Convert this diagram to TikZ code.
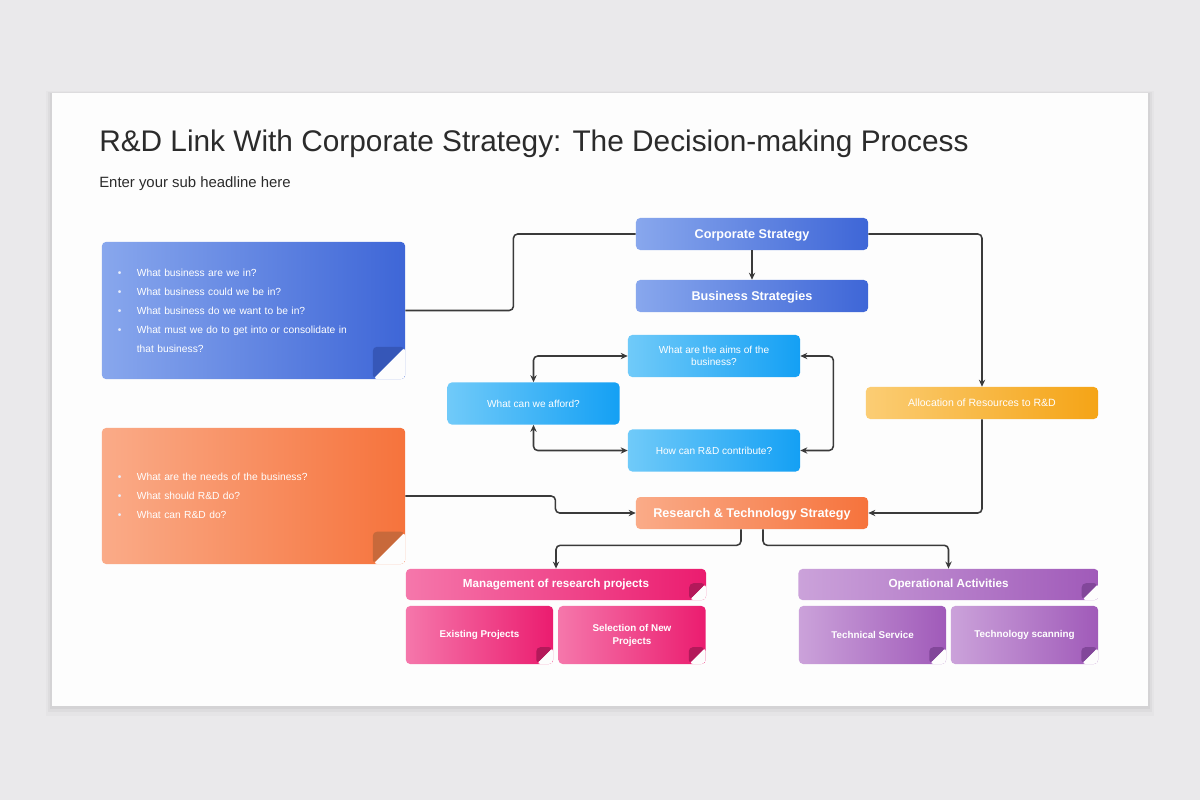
\documentclass[tikz,border=0pt]{standalone}
\usepackage{fontspec}
\setmainfont{Liberation Sans}
\usepackage{tikz}
\usetikzlibrary{calc,arrows.meta}

\definecolor{pagebg}{HTML}{EAE9EB}
\definecolor{slidebg}{HTML}{FDFDFD}
\definecolor{inkline}{HTML}{3A3A3A}
\definecolor{titleink}{HTML}{2B2B2B}
\definecolor{bluA}{HTML}{88A7ED}
\definecolor{bluB}{HTML}{3E66D7}
\definecolor{bluF}{HTML}{3657B8}
\definecolor{orgA}{HTML}{FAAB88}
\definecolor{orgB}{HTML}{F6733C}
\definecolor{orgF}{HTML}{C8693B}
\definecolor{skyA}{HTML}{70CAF9}
\definecolor{skyB}{HTML}{14A0F4}
\definecolor{ylwA}{HTML}{FBCD74}
\definecolor{ylwB}{HTML}{F5A416}
\definecolor{pnkA}{HTML}{F577AB}
\definecolor{pnkB}{HTML}{EB1C6F}
\definecolor{pnkF}{HTML}{B3195A}
\definecolor{prpA}{HTML}{CBA2DA}
\definecolor{prpB}{HTML}{A05AB9}
\definecolor{prpF}{HTML}{82479A}

\tikzset{
  box/.style={rectangle, rounded corners=3pt, text=white, align=center, inner sep=0pt},
  head/.style={box, minimum width=5.8cm, minimum height=0.8cm, text depth=0.5pt, font=\bfseries\fontsize{9}{11}\selectfont},
  ask/.style={box, minimum width=4.3cm, minimum height=1.05cm, left color=skyA, right color=skyB, font=\fontsize{7.2}{9}\selectfont},
  tile/.style={box, minimum width=3.68cm, minimum height=1.45cm, font=\bfseries\fontsize{7}{9.2}\selectfont},
  bar/.style={box, minimum width=7.5cm, minimum height=0.78cm, font=\bfseries\fontsize{8.3}{10}\selectfont},
  note/.style={box, minimum width=7.58cm, minimum height=3.43cm, text width=6.78cm, inner xsep=0.4cm, align=left, font=\fontsize{7.3}{13.5}\selectfont},
  fold/.style 2 args={path picture={
      \fill[slidebg] (path picture bounding box.south east) -- ++(-#1,0) -- ++(#1,#1) -- cycle;
      \fill[#2] (path picture bounding box.south east) ++(-#1,0) -- ++(0,#1) -- ++(#1,0) -- cycle;}},
  conn/.style={draw=inkline, line width=1.1pt, rounded corners=3pt},
  tip/.style={conn, -{Stealth[length=5pt,width=4.5pt]}},
  tips/.style={conn, {Stealth[length=5pt,width=4.5pt]}-{Stealth[length=5pt,width=4.5pt]}},
}
\newcommand{\bul}{\makebox[0.475cm][l]{\textcolor{white!80!bluA}{\textbullet}}}

\begin{document}
\begin{tikzpicture}[x=0.025cm, y=-0.025cm]
		%%%%% START %%%%%
		
		\fill[pagebg] (0, 0) rectangle (1200, 800);
		\useasboundingbox (0, 0) rectangle (1200, 800);
		
		\fill[black, opacity=0.02] (46, 91) rectangle (1154, 716);
		\fill[black, opacity=0.03] (48, 92) rectangle (1152, 712);
		\fill[black, opacity=0.04] (50, 93) rectangle (1150, 709);
		\fill[slidebg] (52, 93) rectangle (1148, 706);
		
		\node[anchor=base west, inner sep=0pt, text=titleink, font=\fontsize{21.2}{25}\selectfont] (title) at (99, 152) {R\&D Link With Corporate Strategy: The Decision-making Process};
		\node[anchor=base west, inner sep=0pt, text=titleink, font=\fontsize{10.6}{12}\selectfont] (subtitle) at (99, 188) {Enter your sub headline here};
		
		% notes on the left
		\node[note, left color=bluA, right color=bluB, fold={23pt}{bluF}] (whatbiz) at (253.5, 310.5) {\bul What business are we in?\\ \bul What business could we be in?\\ \bul What business do we want to be in?\\ \bul What must we do to get into or consolidate in\\ \hspace*{0.475cm}that business?};
		\node[note, minimum height=3.4cm, left color=orgA, right color=orgB, fold={23pt}{orgF}] (whatrd) at (253.5, 496) {\bul What are the needs of the business?\\ \bul What should R\&D do?\\ \bul What can R\&D do?};
		
		% strategy column
		\node[head, left color=bluA, right color=bluB] (corp) at (752, 234) {Corporate Strategy};
		\node[head, left color=bluA, right color=bluB] (busi) at (752, 296) {Business Strategies};
		
		\node[ask] (aims) at (714, 356) {What are the aims of the\\ business?};
		\node[ask] (afford) at (533.5, 403.5) {What can we afford?};
		\node[ask] (contrib) at (714, 450.5) {How can R\&D contribute?};
		
		\node[head, left color=ylwA, right color=ylwB, font=\fontsize{7.5}{9}\selectfont] (alloc) at (982, 403) {Allocation of Resources to R\&D};
		\node[head, left color=orgA, right color=orgB] (rtstrat) at (752, 513) {Research \& Technology Strategy};
		
		% bottom groups
		\node[bar, left color=pnkA, right color=pnkB, fold={12pt}{pnkF}] (mgmt) at (556, 584.5) {Management of research projects};
		\node[tile, left color=pnkA, right color=pnkB, fold={12pt}{pnkF}] (existing) at (479.5, 635) {Existing Projects};
		\node[tile, left color=pnkA, right color=pnkB, fold={12pt}{pnkF}] (newsel) at (632, 635) {Selection of New\\ Projects};
		
		\node[bar, left color=prpA, right color=prpB, fold={12pt}{prpF}] (oper) at (948.5, 584.5) {Operational Activities};
		\node[tile, left color=prpA, right color=prpB, fold={12pt}{prpF}] (techserv) at (872.5, 635) {Technical Service};
		\node[tile, left color=prpA, right color=prpB, fold={12pt}{prpF}] (techscan) at (1024.5, 635) {Technology scanning};
		
		% connectors
		\draw[conn] (whatbiz.east) -- ++(108, 0) |- (corp.west);
		\draw[tip] (corp.south) -- (busi.north);
		\draw[tip] (corp.east) -| (alloc.north);
		\draw[tips] (aims.west) -| (afford.north);
		\draw[tips] (contrib.west) -| (afford.south);
		\draw[tips] (aims.east) -- ++(33, 0) |- (contrib.east);
		\draw[tip] (alloc.south) |- (rtstrat.east);
		\draw[tip] (whatrd.east) -- ++(150, 0) |- (rtstrat.west);
		\draw[tip] ($(rtstrat.south)+(-11, 0)$) -- ++(0, 16) -| (mgmt.north);
		\draw[tip] ($(rtstrat.south)+(11, 0)$) -- ++(0, 16) -| (oper.north);
		
		%%%%% END %%%%%
	\end{tikzpicture}
\end{document}
